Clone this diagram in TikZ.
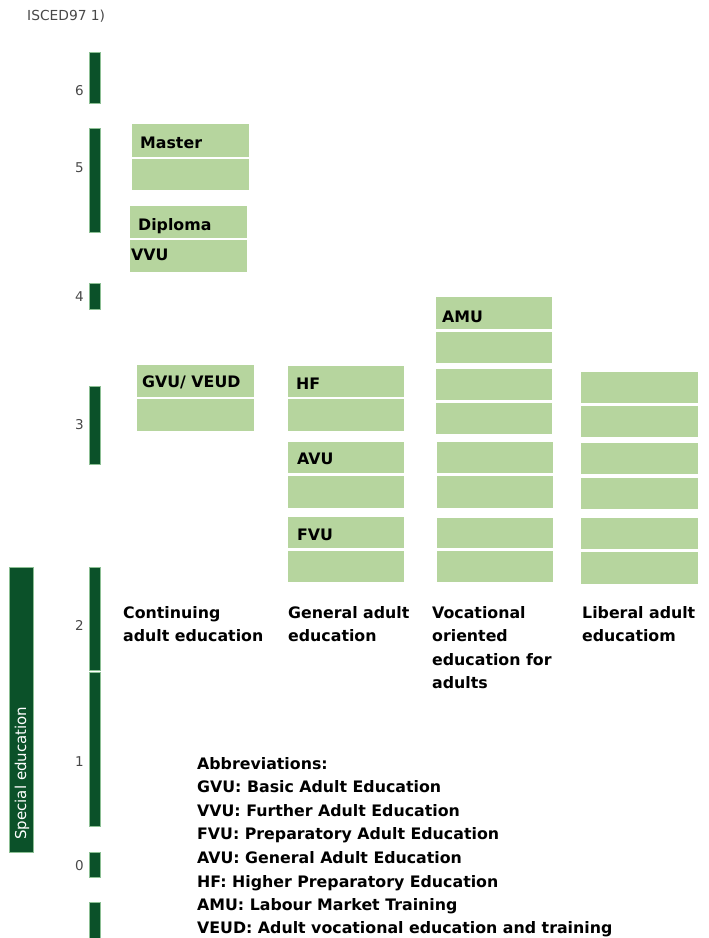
\documentclass[tikz,border=0pt]{standalone}
\usepackage{fontspec}
\setmainfont{DejaVu Sans}
\definecolor{dgreen}{HTML}{0B5129}
\definecolor{dedge}{HTML}{8CBF94}
\definecolor{lgreen}{HTML}{B6D59E}
\definecolor{lgray}{HTML}{484848}
\tikzset{
  bar/.style={fill=dgreen, draw=dedge, line width=0.6pt},
  box/.style={fill=lgreen},
  blab/.style={anchor=base west, inner sep=0pt, font=\fontsize{15.8}{18}\selectfont\bfseries, text=black},
  num/.style={anchor=east, inner sep=0pt, font=\fontsize{13.5}{15}\selectfont, text=lgray},
}
\begin{document}
\begin{tikzpicture}[x=1pt,y=-1pt]
\useasboundingbox (0,0) rectangle (709,938);
% header
\node[anchor=base west, inner sep=0pt, font=\fontsize{13.8}{15}\selectfont, text=lgray] (isced) at (27,20) {ISCED97 1)};
% level bars
\path[bar] (89.5,52) rectangle (100.5,103);
\path[bar] (89.5,128) rectangle (100.5,232);
\path[bar] (89.5,283) rectangle (100.5,309);
\path[bar] (89.5,386) rectangle (100.5,464);
\path[bar] (89.5,567) rectangle (100.5,670);
\path[bar] (89.5,672) rectangle (100.5,826);
\path[bar] (89.5,852) rectangle (100.5,877);
\path[bar] (89.5,902) rectangle (100.5,945);
% level numbers
\node[num] (n6) at (84,91) {6};
\node[num] (n5) at (84,168) {5};
\node[num] (n4) at (84,297) {4};
\node[num] (n3) at (84,425) {3};
\node[num] (n2) at (84,625) {2};
\node[num] (n1) at (84,762) {1};
\node[num] (n0) at (84,866) {0};
% special education
\path[bar] (9.5,567) rectangle (33,852);
\node[rotate=90, anchor=west, inner sep=0pt, text=white, font=\fontsize{15}{16}\selectfont] (spec) at (22,840) {Special education};
% continuing adult education column
\path[box] (132,124) rectangle (249,157);
\path[box] (132,158.5) rectangle (249,190);
\path[box] (130,206) rectangle (247,238);
\path[box] (130,239.5) rectangle (247,272);
\path[box] (137,365) rectangle (254,397);
\path[box] (137,399) rectangle (254,431);
% general adult education column
\path[box] (288,366) rectangle (404,397);
\path[box] (288,399) rectangle (404,431);
\path[box] (288,442) rectangle (404,473);
\path[box] (288,476) rectangle (404,508);
\path[box] (288,517) rectangle (404,548);
\path[box] (288,551) rectangle (404,582);
% vocational column
\path[box] (436,297) rectangle (552,329);
\path[box] (436,332) rectangle (552,363);
\path[box] (436,369) rectangle (552,400);
\path[box] (436,403) rectangle (552,434);
\path[box] (437,442) rectangle (553,473);
\path[box] (437,476) rectangle (553,508);
\path[box] (437,518) rectangle (553,548);
\path[box] (437,551) rectangle (553,582);
% liberal column
\path[box] (581,372) rectangle (698,403);
\path[box] (581,406) rectangle (698,437);
\path[box] (581,443) rectangle (698,474);
\path[box] (581,478) rectangle (698,509);
\path[box] (581,518) rectangle (698,549);
\path[box] (581,552) rectangle (698,584);
% box labels
\node[blab] (master) at (140,148) {Master};
\node[blab] (diploma) at (138,230) {Diploma};
\node[blab] (vvu) at (131,260) {VVU};
\node[blab] (gvu) at (142,387) {GVU/ VEUD};
\node[blab] (hf) at (296,389) {HF};
\node[blab] (avu) at (297,464) {AVU};
\node[blab] (fvu) at (297,540) {FVU};
\node[blab] (amu) at (442,322) {AMU};
% column titles
\node[blab] (c1a) at (123,618) {Continuing};
\node[blab] (c1b) at (123,641.5) {adult education};
\node[blab] (c2a) at (288,618) {General adult};
\node[blab] (c2b) at (288,641.5) {education};
\node[blab] (c3a) at (432,618) {Vocational};
\node[blab] (c3b) at (432,641.5) {oriented};
\node[blab] (c3c) at (432,665) {education for};
\node[blab] (c3d) at (432,688.5) {adults};
\node[blab] (c4a) at (582,618) {Liberal adult};
\node[blab] (c4b) at (582,641.5) {educatiom};
% abbreviations
\node[blab] (ab0) at (197,769) {Abbreviations:};
\node[blab] (ab1) at (197,792.6) {GVU: Basic Adult Education};
\node[blab] (ab2) at (197,816.2) {VVU: Further Adult Education};
\node[blab] (ab3) at (197,839.8) {FVU: Preparatory Adult Education};
\node[blab] (ab4) at (197,863.4) {AVU: General Adult Education};
\node[blab] (ab5) at (197,887) {HF: Higher Preparatory Education};
\node[blab] (ab6) at (197,910.6) {AMU: Labour Market Training};
\node[blab] (ab7) at (197,933.8) {VEUD: Adult vocational education and training};
\end{tikzpicture}
\end{document}
